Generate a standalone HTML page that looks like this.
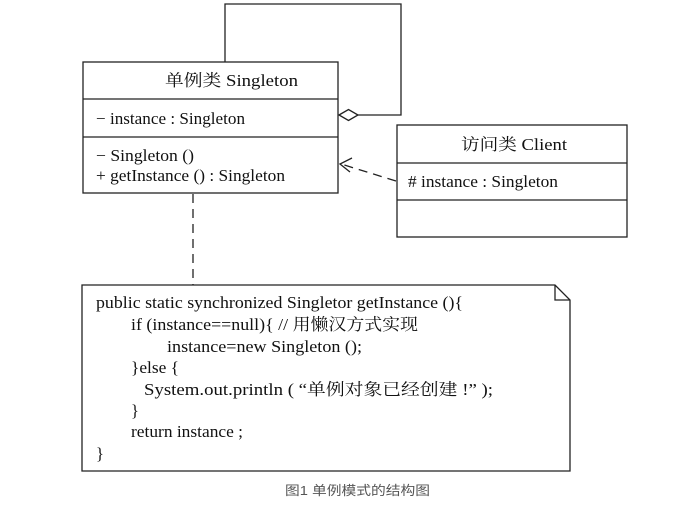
<!DOCTYPE html>
<html><head><meta charset="utf-8"><style>
body{margin:0;background:#fff;}
svg text{font-family:"Liberation Serif","Noto Serif CJK SC",serif;fill:#111;}
</style></head><body>
<svg width="691" height="508" viewBox="0 0 691 508" xmlns="http://www.w3.org/2000/svg">
<g stroke="#222" stroke-width="1.3" fill="none">
<rect x="83" y="62" width="255" height="131"/>
<line x1="83" y1="99" x2="338" y2="99"/>
<line x1="83" y1="137" x2="338" y2="137"/>
<polyline points="225,62 225,4 401,4 401,115 358,115"/>
<polygon points="339,115 348.5,109.5 358,115 348.5,120.5" fill="#fff"/>
<rect x="397" y="125" width="230" height="112"/>
<line x1="397" y1="163" x2="627" y2="163"/>
<line x1="397" y1="200" x2="627" y2="200"/>
<line x1="396" y1="181" x2="341" y2="164" stroke-dasharray="9,6"/>
<polyline points="352,158 340,164 350,172"/>
<line x1="193" y1="194" x2="193" y2="285" stroke-dasharray="9,6"/>
<polygon points="82,285 555,285 570,300 570,471 82,471"/>
<polyline points="555,285 555,300 570,300"/>
</g>
<g font-size="16.5" lengthAdjust="spacingAndGlyphs">
<text x="165" y="86" textLength="133" lengthAdjust="spacingAndGlyphs">单例类 Singleton</text>
<text x="96" y="124" textLength="149" lengthAdjust="spacingAndGlyphs">− instance : Singleton</text>
<text x="96" y="161" textLength="98" lengthAdjust="spacingAndGlyphs">− Singleton ()</text>
<text x="96" y="181" textLength="189" lengthAdjust="spacingAndGlyphs">+ getInstance () : Singleton</text>
<text x="461" y="150" textLength="106" lengthAdjust="spacingAndGlyphs">访问类 Client</text>
<text x="408" y="187" textLength="150" lengthAdjust="spacingAndGlyphs"># instance : Singleton</text>
</g>
<g font-size="16.5">
<text x="96" y="308" textLength="367" lengthAdjust="spacingAndGlyphs">public static synchronized Singletor getInstance (){</text>
<text x="131" y="330" textLength="287" lengthAdjust="spacingAndGlyphs">if (instance==null){ // 用懒汉方式实现</text>
<text x="167" y="352" textLength="195" lengthAdjust="spacingAndGlyphs">instance=new Singleton ();</text>
<text x="131" y="373" textLength="48" lengthAdjust="spacingAndGlyphs">}else {</text>
<text x="144" y="395" textLength="349" lengthAdjust="spacingAndGlyphs">System.out.println ( “单例对象已经创建 !” );</text>
<text x="131" y="416">}</text>
<text x="131" y="437" textLength="112" lengthAdjust="spacingAndGlyphs">return instance ;</text>
<text x="96" y="459">}</text>
</g>
<text x="285" y="495" textLength="145" lengthAdjust="spacingAndGlyphs" font-size="13" style="font-family:'Liberation Sans','Noto Sans CJK SC',sans-serif;fill:#555">图1 单例模式的结构图</text>
</svg>
</body></html>
